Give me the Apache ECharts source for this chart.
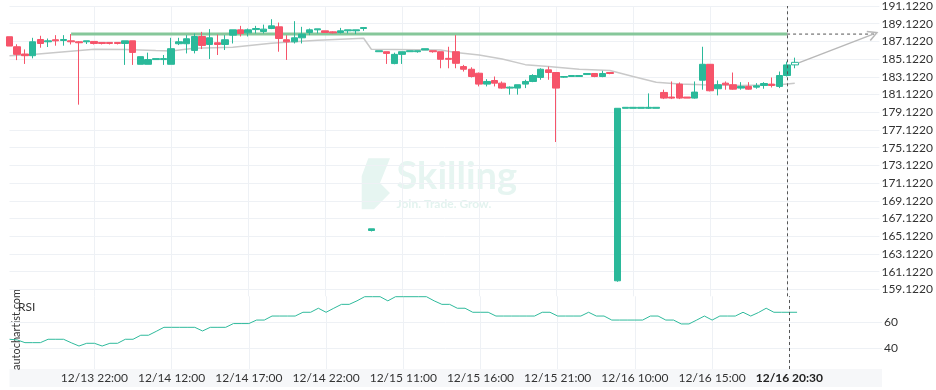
<!DOCTYPE html>
<html><head><meta charset="utf-8">
<script src="https://cdn.jsdelivr.net/npm/echarts@6/dist/echarts.min.js"></script>
<style>html,body{margin:0;padding:0;background:#fff}#c{width:936px;height:390px}</style>
</head><body><div id="c"></div>
<script>
// ---- data ----
const openV  = [187.65,186.52,185.70,185.51,187.34,187.08,187.31,187.23,187.19,187.08,
                187.08,187.12,187.01,187.01,187.01,186.89,187.19,184.54,184.54,185.07,
                185.07,184.54,186.86,186.86,186.11,187.68,186.78,186.97,186.78,187.83,
                188.43,188.09,188.46,188.24,188.58,188.77,187.31,187.08,187.53,188.13,
                188.43,188.32,188.20,188.13,188.32,188.32,188.58,165.77,185.96,185.96,
                184.62,185.66,185.96,185.96,186.15,186.07,185.96,185.21,185.96,184.28,
                183.98,183.53,182.30,182.71,182.41,181.85,181.85,182.30,182.60,183.05,
                183.91,183.61,183.08,183.16,183.16,183.38,183.50,183.16,183.61,160.09,
                179.57,179.57,179.57,179.57,179.57,181.36,180.84,182.30,180.84,180.72,
                182.74,184.54,181.78,182.41,182.23,181.85,182.04,181.96,182.15,182.30,
                182.04,183.27,184.47];
const closeV = [186.60,185.66,185.51,187.08,186.89,187.19,187.19,187.34,187.08,186.97,
                187.19,186.89,186.89,186.89,186.89,187.19,185.88,185.40,185.07,185.18,
                185.18,186.30,187.08,187.42,187.68,186.67,187.53,186.78,187.31,188.43,
                188.02,188.43,188.58,188.51,188.88,187.45,187.08,187.53,187.95,188.43,
                188.54,188.13,188.09,188.32,188.43,188.43,188.69,165.96,186.07,185.77,
                185.66,185.96,186.07,186.07,186.30,185.96,185.10,185.10,184.65,183.98,
                183.16,182.30,182.60,182.41,181.85,181.96,182.23,182.60,183.27,183.98,
                183.61,181.85,183.16,183.27,183.27,183.50,183.16,183.50,183.50,179.57,
                179.68,179.68,179.68,179.68,179.68,180.72,180.72,180.72,180.72,181.40,
                184.54,181.55,182.23,182.23,181.73,182.04,181.73,182.11,182.37,182.15,
                183.27,184.47,184.76];
const lowV   = [186.60,185.01,184.58,185.21,186.41,186.49,186.64,186.64,186.78,179.98,
                186.83,186.78,186.78,186.78,186.78,184.47,184.47,184.54,184.54,185.07,
                184.47,184.54,186.71,185.77,185.77,186.26,185.14,185.59,186.15,186.89,
                187.68,187.68,188.02,188.02,188.51,185.96,185.03,186.89,186.89,187.83,
                188.02,188.13,188.02,188.02,188.02,187.95,188.32,165.66,185.96,184.58,
                184.54,184.58,185.96,185.85,186.15,185.85,184.09,184.09,184.09,183.72,
                183.05,182.04,182.04,182.04,181.78,181.11,181.11,181.85,182.52,182.79,
                182.79,175.76,183.00,183.16,183.16,183.38,183.08,183.08,183.42,159.98,
                179.57,179.57,179.57,179.49,179.57,180.61,180.61,180.61,180.72,180.66,
                181.67,181.48,181.03,181.67,181.67,181.67,181.67,181.78,181.78,181.92,
                181.85,183.16,184.09];
const highV  = [187.65,186.80,186.22,187.53,187.76,187.45,187.83,187.83,187.95,187.16,
                187.19,187.12,187.01,187.01,187.01,187.19,187.19,185.40,185.85,185.18,
                185.59,187.53,187.53,187.83,188.02,188.20,188.51,187.90,187.83,188.43,
                188.88,188.58,188.88,189.02,189.63,189.25,187.83,189.41,188.77,188.58,
                188.54,188.32,188.25,188.65,188.43,188.43,188.69,165.96,186.07,185.96,
                185.85,185.96,186.07,186.07,186.30,186.07,185.96,186.52,187.83,184.47,
                184.20,183.61,182.86,183.16,182.60,182.04,182.23,182.79,183.42,184.09,
                184.28,183.61,183.16,183.27,183.27,183.50,183.50,183.80,183.61,179.57,
                179.68,179.68,179.68,181.25,179.68,181.67,182.60,182.49,180.84,182.60,
                186.52,184.54,182.71,182.60,183.61,182.52,182.52,182.41,182.52,183.05,
                183.72,184.84,185.29];
const rsiV   = [46.9,46.4,44.3,44.3,44.3,46.9,46.9,46.9,44.2,41.7,
                43.8,43.8,41.7,43.8,43.8,46.9,46.9,50.0,50.0,53.0,
                56.1,56.1,56.1,56.1,56.1,53.3,56.1,56.1,56.1,59.0,
                59.0,59.0,61.7,61.7,64.8,64.8,64.8,64.8,67.7,67.7,
                70.8,67.7,70.8,73.8,73.8,76.5,79.7,79.7,79.7,76.5,
                79.7,79.7,79.7,79.7,79.7,76.5,73.8,73.8,70.8,70.8,
                67.7,67.7,67.7,64.8,64.8,64.8,64.8,64.8,64.8,67.7,
                67.7,64.8,64.8,64.8,64.8,67.7,64.8,64.8,61.7,61.7,
                61.7,61.7,61.7,64.8,64.8,61.7,61.7,58.7,58.7,61.7,
                64.8,61.7,64.8,64.8,64.8,67.7,64.8,67.5,70.8,67.7,
                67.7,67.7,67.7];
const maIdx  = [0,3,11,15,19,21,24,29,34,40,46,47,56,58,61,64,67,70,74,78,81,84,87,90,95,100,102];
const maVal  = [185.51,185.65,186.24,186.22,186.09,186.04,186.36,186.45,186.92,187.25,187.48,186.24,186.15,185.88,185.59,185.14,184.50,184.28,183.98,183.83,183.16,182.52,182.30,182.23,182.15,182.23,182.41];
const tickIdx  = [11,21,31,41,51,61,71,81,91,101];
const tickText = ['12/13 22:00','12/14 12:00','12/14 17:00','12/14 22:00','12/15 11:00','12/15 16:00','12/15 21:00','12/16 10:00','12/16 15:00','12/16 20:30'];
const priceTicks = [159.122,161.122,163.122,165.122,167.122,169.122,171.122,173.122,175.122,177.122,179.122,181.122,183.122,185.122,187.122,189.122,191.122];
const rsiTicks = [40,60];
const resistance = 187.95;
const resStart = 8, nowIdx = 101, dashEnd = 112.7;
const projFrom = [102.5, 184.70], projTo = [112.2, 187.95];
const categoryCount = 114;

// ---- build ----
const GREEN = '#2ab99a', RED = '#f6546a', GRIDC = '#eef1f5', TXT = '#333';
const cats = Array.from({length: categoryCount}, (_, i) => String(i));
const nLast = openV.length - 1;
const mainData = [], lastData = [];
for (let i = 0; i < openV.length; i++) {
  const d = [openV[i], closeV[i], lowV[i], highV[i]];
  if (i < nLast) { mainData.push(d); lastData.push('-'); }
  else { lastData.push(d); }
}
const maData = maIdx.map((x, k) => [x, maVal[k]]);
const tickSet = new Set(tickIdx);
const isTick = (i) => tickSet.has(i);

const chart = echarts.init(document.getElementById('c'), null, {renderer: 'canvas'});
const vline = {
  silent: true, symbol: ['none','none'], label: {show: false},
  lineStyle: {type: [3,3], color: '#555', width: 1},
  data: [{xAxis: String(nowIdx)}]
};
chart.setOption({
  animation: false,
  textStyle: {fontFamily: 'Lato'},
  grid: [
    {left: 9.5, right: 54, top: 4, height: 292.3},
    {left: 9.5, right: 54, top: 296.3, height: 72.7}
  ],
  xAxis: [
    {type: 'category', gridIndex: 0, data: cats, boundaryGap: false,
     axisLine: {show: false}, axisTick: {show: false}, axisLabel: {show: false},
     splitLine: {show: true, interval: isTick, lineStyle: {color: GRIDC, width: 1}}},
    {type: 'category', gridIndex: 1, data: cats, boundaryGap: false,
     axisLine: {show: false}, axisTick: {show: false},
     axisLabel: {show: true, interval: isTick, margin: 3, color: TXT, fontSize: 12, fontFamily: 'Lato',
       formatter: (v) => { const k = tickIdx.indexOf(Number(v)); if (k < 0) return ''; return Number(v) === nowIdx ? '{b|' + tickText[k] + '}' : tickText[k]; },
       rich: {b: {fontWeight: 'bold', fontSize: 12, color: '#222', fontFamily: 'Lato'}}},
     splitLine: {show: true, interval: isTick, lineStyle: {color: GRIDC, width: 1}}},
    {type: 'value', gridIndex: 0, min: 0, max: categoryCount - 1, show: false}
  ],
  yAxis: [
    {type: 'value', gridIndex: 0, position: 'right', min: 158.338, max: 191.122, scale: true,
     axisLine: {show: false}, axisTick: {show: false, customValues: priceTicks},
     axisLabel: {customValues: priceTicks, formatter: (v) => v.toFixed(4), margin: 2, color: TXT, fontSize: 12, fontFamily: 'Lato', padding: [4,0,0,0]},
     splitLine: {show: true, lineStyle: {color: GRIDC, width: 1}}},
    {type: 'value', gridIndex: 1, position: 'right', min: 24, max: 80, scale: true,
     axisLine: {show: false}, axisTick: {show: false, customValues: rsiTicks},
     axisLabel: {customValues: rsiTicks, margin: 2, color: TXT, fontSize: 12, fontFamily: 'Lato', padding: [2,0,0,0]},
     splitLine: {show: true, lineStyle: {color: GRIDC, width: 1}}}
  ],
  graphic: [
    {type: 'rect', z: -1, shape: {x: 9.5, y: 369, width: 872.5, height: 18}, style: {fill: '#f6f7f9'}},
    {type: 'polygon', z: -1, shape: {points: [[368.3,158.3],[390,158.3],[380,183],[390,193],[374,209.3],[361.7,209.3],[361.7,176]]}, style: {fill: '#e6f5f1'}},
    {type: 'text', z: -1, x: 396.5, y: 177, style: {text: 'Skilling', font: 'bold 38px Lato', fill: '#e6f5f1', verticalAlign: 'middle', align: 'left'}},
    {type: 'text', z: -1, x: 396.5, y: 204, style: {text: 'Join. Trade. Grow.', font: 'bold 12px Lato', fill: '#e3f3ef', verticalAlign: 'middle', align: 'left'}},
    {type: 'text', x: 16, y: 329.5, rotation: Math.PI / 2, style: {text: 'autochartist.com', font: '11px Lato', fill: TXT, align: 'center', verticalAlign: 'middle'}},
    {type: 'text', x: 18, y: 307, style: {text: 'RSI', font: '12px Lato', fill: TXT, align: 'left', verticalAlign: 'middle'}}
  ],
  series: [
    {type: 'line', name: 'ma', xAxisIndex: 2, yAxisIndex: 0, data: maData, symbol: 'none', silent: true,
     lineStyle: {color: '#c9c9c9', width: 1.5}, z: 1},
    {type: 'line', name: 'resistance', xAxisIndex: 2, yAxisIndex: 0,
     data: [[resStart, resistance], [nowIdx, resistance]], symbol: 'none', silent: true,
     lineStyle: {color: '#86c79a', width: 3}, z: 1},
    {type: 'candlestick', name: 'price', xAxisIndex: 0, yAxisIndex: 0, data: mainData, barWidth: 7, clip: true,
     itemStyle: {color: GREEN, color0: RED, borderColor: GREEN, borderColor0: RED, borderWidth: 1},
     markLine: vline, z: 3},
    {type: 'candlestick', name: 'last', xAxisIndex: 0, yAxisIndex: 0, data: lastData, barWidth: 7,
     itemStyle: {color: '#ffffff', color0: '#ffffff', borderColor: GREEN, borderColor0: GREEN, borderWidth: 1}, z: 3},
    {type: 'line', name: 'proj', xAxisIndex: 2, yAxisIndex: 0,
     data: [[nowIdx, resistance], [dashEnd, resistance]], symbol: 'none', silent: true,
     lineStyle: {color: '#555', width: 1, type: [3,3]}, z: 4,
     markLine: {silent: true, label: {show: false},
       symbol: ['none', 'path://M0 9L5 0L10 9L8.8 9.7L5 2.8L1.2 9.7Z'], symbolSize: 11,
       lineStyle: {color: '#b8b8b8', width: 1.5, type: 'solid'},
       data: [[{coord: projFrom}, {coord: projTo}]]}},
    {type: 'line', name: 'rsi', xAxisIndex: 1, yAxisIndex: 1, data: rsiV, symbol: 'none', silent: true,
     lineStyle: {color: '#2fba9c', width: 1}, markLine: vline, z: 3}
  ]
});
</script></body></html>
